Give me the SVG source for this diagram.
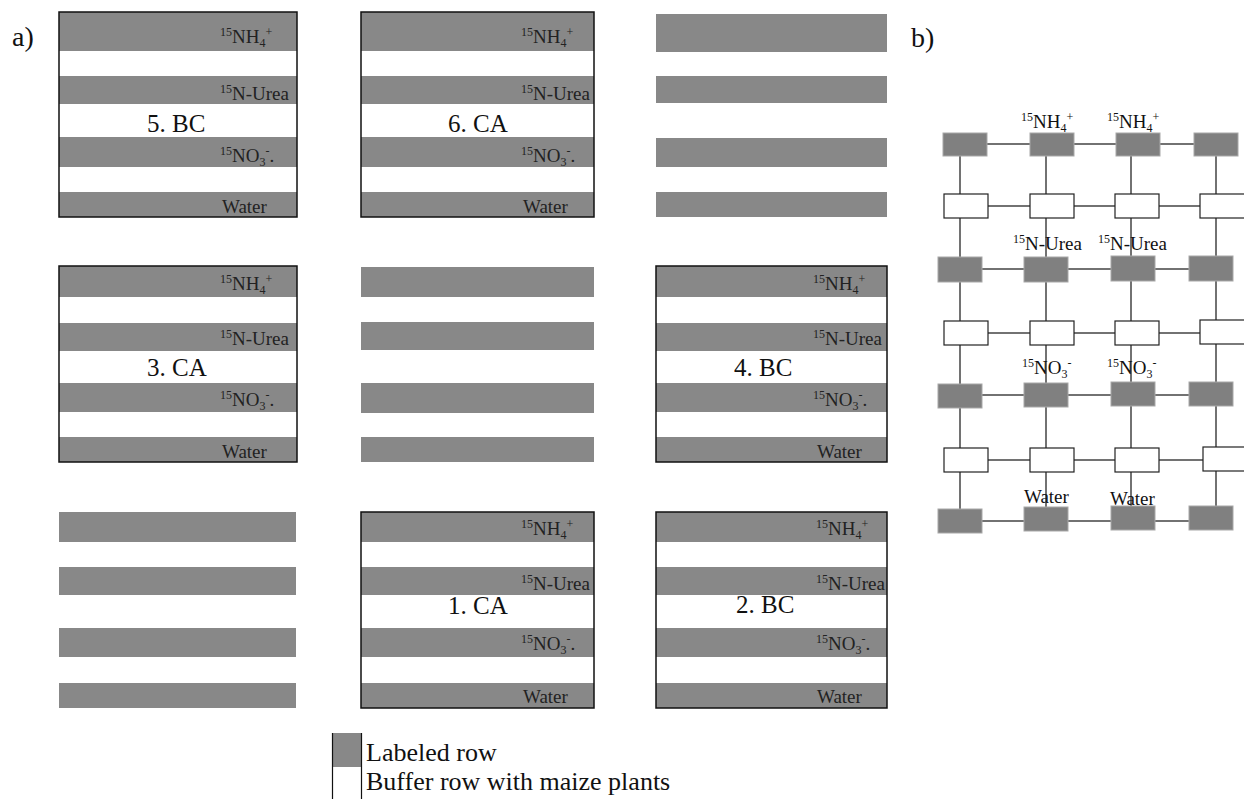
<svg xmlns="http://www.w3.org/2000/svg" width="1244" height="799" viewBox="0 0 1244 799">
<style>
.st{fill:#888888;}
.frame{fill:none;stroke:#111;stroke-width:1.5;}
.lab{font-family:"Liberation Serif",serif;font-size:19px;fill:#222;}
.sup{font-size:12px;}
.big{font-family:"Liberation Serif",serif;font-size:25px;fill:#111;}
.leg{font-family:"Liberation Serif",serif;font-size:26px;fill:#111;}
.gb{fill:#808080;stroke:#a8a8a8;stroke-width:1;}
.wb{fill:#fff;stroke:#222;stroke-width:1.2;}
.ln{stroke:#444;stroke-width:1.5;fill:none;}
.gl{font-family:"Liberation Serif",serif;font-size:19px;fill:#111;}
</style>
<rect width="1244" height="799" fill="#fff"/>
<text class="big" x="12" y="46" style="font-size:28px">a)</text>
<text class="big" x="911" y="47" style="font-size:28px">b)</text>

<!-- Block 5 BC -->
<g id="block5">
<rect class="st" x="59" y="12" width="238" height="39"/>
<rect class="st" x="59" y="76" width="238" height="28"/>
<rect class="st" x="59" y="137" width="238" height="30"/>
<rect class="st" x="59" y="192" width="238" height="25"/>
<rect class="frame" x="59" y="12" width="238" height="205"/>
<text class="lab" x="220" y="43"><tspan class="sup" dy="-7">15</tspan><tspan dy="7">NH</tspan><tspan class="sup" dy="4">4</tspan><tspan class="sup" dy="-11">+</tspan></text>
<text class="lab" x="220" y="100"><tspan class="sup" dy="-7">15</tspan><tspan dy="7">N-Urea</tspan></text>
<text class="lab" x="220" y="162"><tspan class="sup" dy="-7">15</tspan><tspan dy="7">NO</tspan><tspan class="sup" dy="4">3</tspan><tspan class="sup" dy="-11">-</tspan><tspan dy="7">.</tspan></text>
<text class="lab" x="222" y="213">Water</text>
<text class="big" x="147" y="132">5. BC</text>
</g>

<!-- Block 6 CA -->
<g id="block6">
<rect class="st" x="361" y="12" width="233" height="39"/>
<rect class="st" x="361" y="76" width="233" height="28"/>
<rect class="st" x="361" y="137" width="233" height="30"/>
<rect class="st" x="361" y="192" width="233" height="25"/>
<rect class="frame" x="361" y="12" width="233" height="205"/>
<text class="lab" x="521" y="43"><tspan class="sup" dy="-7">15</tspan><tspan dy="7">NH</tspan><tspan class="sup" dy="4">4</tspan><tspan class="sup" dy="-11">+</tspan></text>
<text class="lab" x="521" y="100"><tspan class="sup" dy="-7">15</tspan><tspan dy="7">N-Urea</tspan></text>
<text class="lab" x="521" y="162"><tspan class="sup" dy="-7">15</tspan><tspan dy="7">NO</tspan><tspan class="sup" dy="4">3</tspan><tspan class="sup" dy="-11">-</tspan><tspan dy="7">.</tspan></text>
<text class="lab" x="523" y="213">Water</text>
<text class="big" x="448" y="132">6. CA</text>
</g>

<!-- Top right stripes -->
<g id="stripes-top-right">
<rect class="st" x="656" y="14" width="231" height="38"/>
<rect class="st" x="656" y="76" width="231" height="27"/>
<rect class="st" x="656" y="138" width="231" height="29"/>
<rect class="st" x="656" y="192" width="231" height="25"/>
</g>

<!-- Block 3 CA -->
<g id="block3">
<rect class="st" x="59" y="266" width="238" height="31"/>
<rect class="st" x="59" y="323" width="238" height="28"/>
<rect class="st" x="59" y="383" width="238" height="29"/>
<rect class="st" x="59" y="437" width="238" height="25"/>
<rect class="frame" x="59" y="266" width="238" height="196"/>
<text class="lab" x="220" y="290"><tspan class="sup" dy="-7">15</tspan><tspan dy="7">NH</tspan><tspan class="sup" dy="4">4</tspan><tspan class="sup" dy="-11">+</tspan></text>
<text class="lab" x="220" y="345"><tspan class="sup" dy="-7">15</tspan><tspan dy="7">N-Urea</tspan></text>
<text class="lab" x="220" y="406"><tspan class="sup" dy="-7">15</tspan><tspan dy="7">NO</tspan><tspan class="sup" dy="4">3</tspan><tspan class="sup" dy="-11">-</tspan><tspan dy="7">.</tspan></text>
<text class="lab" x="222" y="458">Water</text>
<text class="big" x="147" y="376">3. CA</text>
</g>

<!-- Middle stripes -->
<g id="stripes-middle">
<rect class="st" x="361" y="267" width="233" height="30"/>
<rect class="st" x="361" y="322" width="233" height="28"/>
<rect class="st" x="361" y="383" width="233" height="30"/>
<rect class="st" x="361" y="437" width="233" height="25"/>
</g>

<!-- Block 4 BC -->
<g id="block4">
<rect class="st" x="656" y="266" width="231" height="31"/>
<rect class="st" x="656" y="323" width="231" height="28"/>
<rect class="st" x="656" y="383" width="231" height="29"/>
<rect class="st" x="656" y="437" width="231" height="25"/>
<rect class="frame" x="656" y="266" width="231" height="196"/>
<text class="lab" x="813" y="290"><tspan class="sup" dy="-7">15</tspan><tspan dy="7">NH</tspan><tspan class="sup" dy="4">4</tspan><tspan class="sup" dy="-11">+</tspan></text>
<text class="lab" x="813" y="345"><tspan class="sup" dy="-7">15</tspan><tspan dy="7">N-Urea</tspan></text>
<text class="lab" x="813" y="406"><tspan class="sup" dy="-7">15</tspan><tspan dy="7">NO</tspan><tspan class="sup" dy="4">3</tspan><tspan class="sup" dy="-11">-</tspan><tspan dy="7">.</tspan></text>
<text class="lab" x="817" y="458">Water</text>
<text class="big" x="734" y="376">4. BC</text>
</g>

<!-- Bottom left stripes -->
<g id="stripes-bottom-left">
<rect class="st" x="59" y="512" width="237" height="30"/>
<rect class="st" x="59" y="567" width="237" height="28"/>
<rect class="st" x="59" y="628" width="237" height="29"/>
<rect class="st" x="59" y="683" width="237" height="25"/>
</g>

<!-- Block 1 CA -->
<g id="block1">
<rect class="st" x="361" y="512" width="233" height="30"/>
<rect class="st" x="361" y="567" width="233" height="28"/>
<rect class="st" x="361" y="628" width="233" height="29"/>
<rect class="st" x="361" y="683" width="233" height="25"/>
<rect class="frame" x="361" y="512" width="233" height="196"/>
<text class="lab" x="521" y="535"><tspan class="sup" dy="-7">15</tspan><tspan dy="7">NH</tspan><tspan class="sup" dy="4">4</tspan><tspan class="sup" dy="-11">+</tspan></text>
<text class="lab" x="521" y="590"><tspan class="sup" dy="-7">15</tspan><tspan dy="7">N-Urea</tspan></text>
<text class="lab" x="521" y="650"><tspan class="sup" dy="-7">15</tspan><tspan dy="7">NO</tspan><tspan class="sup" dy="4">3</tspan><tspan class="sup" dy="-11">-</tspan><tspan dy="7">.</tspan></text>
<text class="lab" x="523" y="703">Water</text>
<text class="big" x="448" y="614">1. CA</text>
</g>

<!-- Block 2 BC -->
<g id="block2">
<rect class="st" x="656" y="512" width="231" height="30"/>
<rect class="st" x="656" y="567" width="231" height="28"/>
<rect class="st" x="656" y="628" width="231" height="29"/>
<rect class="st" x="656" y="683" width="231" height="25"/>
<rect class="frame" x="656" y="512" width="231" height="196"/>
<text class="lab" x="816" y="535"><tspan class="sup" dy="-7">15</tspan><tspan dy="7">NH</tspan><tspan class="sup" dy="4">4</tspan><tspan class="sup" dy="-11">+</tspan></text>
<text class="lab" x="816" y="590"><tspan class="sup" dy="-7">15</tspan><tspan dy="7">N-Urea</tspan></text>
<text class="lab" x="816" y="650"><tspan class="sup" dy="-7">15</tspan><tspan dy="7">NO</tspan><tspan class="sup" dy="4">3</tspan><tspan class="sup" dy="-11">-</tspan><tspan dy="7">.</tspan></text>
<text class="lab" x="817" y="703">Water</text>
<text class="big" x="736" y="613">2. BC</text>
</g>

<!-- Legend -->
<g id="legend">
<rect x="332" y="733" width="30" height="34" fill="#888888"/>
<path d="M332.5 733 V799 M361.5 733 V799" stroke="#111" stroke-width="1.2" fill="none"/>
<text class="leg" x="366" y="761">Labeled row</text>
<text class="leg" x="366" y="790">Buffer row with maize plants</text>
</g>

<!-- b) grid connectors -->
<g id="connectors">
<path class="ln" d="M960 144 V521 M1046 144 V521 M1131 144 V521 M1216 144 V521"/>
<path class="ln" d="M960 144 H1216 M960 206 H1222 M960 269 H1216 M960 333 H1222 M960 395 H1216 M960 460 H1222 M960 521 H1216"/>
</g>

<!-- b) grid nodes -->
<g id="r1c1"><rect class="gb" x="943" y="133" width="44" height="23"/></g>
<g id="r1c2"><rect class="gb" x="1030" y="133" width="44" height="23"/></g>
<g id="r1c3"><rect class="gb" x="1116" y="133" width="44" height="23"/></g>
<g id="r1c4"><rect class="gb" x="1194" y="133" width="44" height="23"/></g>

<g id="r2c1"><rect class="wb" x="944" y="194" width="44" height="24"/></g>
<g id="r2c2"><rect class="wb" x="1030" y="194" width="44" height="24"/></g>
<g id="r2c3"><rect class="wb" x="1115" y="194" width="44" height="24"/></g>
<g id="r2c4"><rect class="wb" x="1200" y="194" width="46" height="24"/></g>

<g id="r3c1"><rect class="gb" x="938" y="257" width="44" height="25"/></g>
<g id="r3c2"><rect class="gb" x="1024" y="257" width="44" height="25"/></g>
<g id="r3c3"><rect class="gb" x="1111" y="256" width="44" height="25"/></g>
<g id="r3c4"><rect class="gb" x="1189" y="256" width="44" height="25"/></g>

<g id="r4c1"><rect class="wb" x="944" y="321" width="44" height="24"/></g>
<g id="r4c2"><rect class="wb" x="1030" y="321" width="44" height="24"/></g>
<g id="r4c3"><rect class="wb" x="1115" y="321" width="44" height="24"/></g>
<g id="r4c4"><rect class="wb" x="1200" y="320" width="46" height="24"/></g>

<g id="r5c1"><rect class="gb" x="938" y="384" width="44" height="24"/></g>
<g id="r5c2"><rect class="gb" x="1024" y="383" width="44" height="24"/></g>
<g id="r5c3"><rect class="gb" x="1111" y="382" width="44" height="24"/></g>
<g id="r5c4"><rect class="gb" x="1189" y="382" width="44" height="24"/></g>

<g id="r6c1"><rect class="wb" x="944" y="448" width="44" height="24"/></g>
<g id="r6c2"><rect class="wb" x="1030" y="448" width="44" height="24"/></g>
<g id="r6c3"><rect class="wb" x="1115" y="448" width="44" height="24"/></g>
<g id="r6c4"><rect class="wb" x="1203" y="447" width="44" height="24"/></g>

<g id="r7c1"><rect class="gb" x="938" y="509" width="44" height="24"/></g>
<g id="r7c2"><rect class="gb" x="1024" y="507" width="44" height="24"/></g>
<g id="r7c3"><rect class="gb" x="1111" y="506" width="44" height="24"/></g>
<g id="r7c4"><rect class="gb" x="1189" y="506" width="44" height="24"/></g>

<!-- b) labels -->
<g id="grid-labels">
<text class="gl" x="1021" y="128"><tspan class="sup" dy="-7">15</tspan><tspan dy="7">NH</tspan><tspan class="sup" dy="4">4</tspan><tspan class="sup" dy="-11">+</tspan></text>
<text class="gl" x="1107" y="128"><tspan class="sup" dy="-7">15</tspan><tspan dy="7">NH</tspan><tspan class="sup" dy="4">4</tspan><tspan class="sup" dy="-11">+</tspan></text>
<text class="gl" x="1013" y="250"><tspan class="sup" dy="-7">15</tspan><tspan dy="7">N-Urea</tspan></text>
<text class="gl" x="1098" y="250"><tspan class="sup" dy="-7">15</tspan><tspan dy="7">N-Urea</tspan></text>
<text class="gl" x="1022" y="374"><tspan class="sup" dy="-7">15</tspan><tspan dy="7">NO</tspan><tspan class="sup" dy="4">3</tspan><tspan class="sup" dy="-11">-</tspan></text>
<text class="gl" x="1107" y="374"><tspan class="sup" dy="-7">15</tspan><tspan dy="7">NO</tspan><tspan class="sup" dy="4">3</tspan><tspan class="sup" dy="-11">-</tspan></text>
<text class="gl" x="1024" y="503">Water</text>
<text class="gl" x="1110" y="505">Water</text>
</g>
</svg>
